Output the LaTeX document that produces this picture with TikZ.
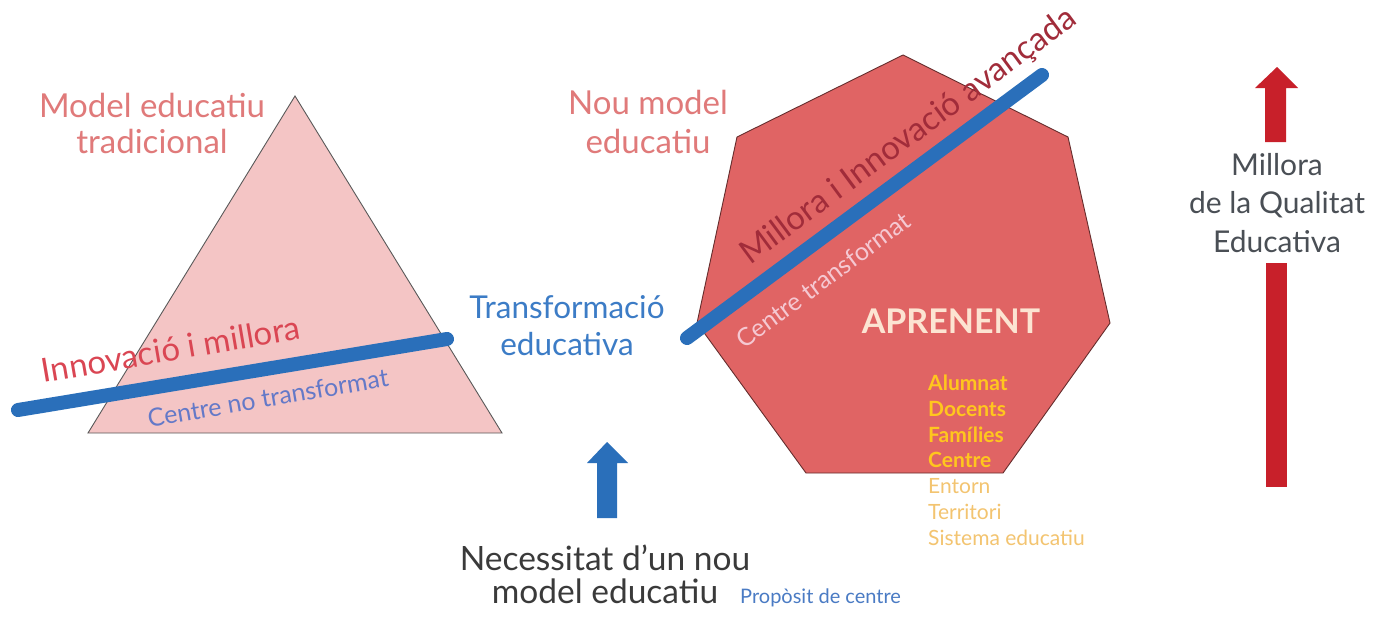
\documentclass[tikz,border=0pt]{standalone}
\usepackage{fontspec}
\setmainfont{Lato}
\definecolor{titlepink}{HTML}{E07A7A}
\definecolor{innored}{HTML}{DA4653}
\definecolor{periblue}{HTML}{6479C8}
\definecolor{transblue}{HTML}{3C7CC6}
\definecolor{darkred}{HTML}{A12C3A}
\definecolor{lightpink}{HTML}{F5C8D2}
\definecolor{cream}{HTML}{FCE4D2}
\definecolor{gold}{HTML}{FFC61E}
\definecolor{palegold}{HTML}{F3C470}
\definecolor{darkgray}{HTML}{3A3A3A}
\definecolor{qualgray}{HTML}{4A4F55}
\definecolor{trifill}{HTML}{F4C5C5}
\definecolor{heptfill}{HTML}{E06464}
\definecolor{lineblue}{HTML}{2A6FBA}
\definecolor{arrowred}{HTML}{C8202A}
\definecolor{propblue}{HTML}{4A7BC4}
\tikzset{
  lbl/.style={inner sep=0pt, anchor=base},
  bluebar/.style={draw=lineblue, line width=14pt, line cap=round},
  titletext/.style={lbl, text=titlepink, font=\fontsize{33}{36}\selectfont},
  listbold/.style={inner sep=0pt, anchor=base west, text=gold, font=\fontsize{21}{23}\selectfont\bfseries},
  listlight/.style={inner sep=0pt, anchor=base west, text=palegold, font=\fontsize{21}{23}\selectfont},
}
\begin{document}
\begin{tikzpicture}[x=1pt,y=-1pt]
\useasboundingbox (0,0) rectangle (1383,616);
\fill[white] (0,0) rectangle (1383,616);

% triangle
\draw[fill=trifill, draw=black!65, line width=0.9pt] (295,96) -- (502,433) -- (88,433) -- cycle;
% heptagon
\draw[fill=heptfill, draw=black!55!heptfill, line width=0.9pt]
  (903,55) -- (1068,137) -- (1110,323) -- (1003,473) -- (806,473) -- (697,323) -- (737,137) -- cycle;

% titles
\node[titletext] (t1a) at (152,117) {Model educatiu};
\node[titletext] (t1b) at (152,153) {tradicional};
\node[titletext] (t2a) at (648,114) {Nou model};
\node[titletext] (t2b) at (648,153) {educatiu};

% blue bars
\coordinate (b1s) at (18,410);
\coordinate (b1e) at (447,339);
\draw[bluebar] (b1s) -- (b1e);
\coordinate (b2s) at (687,338);
\coordinate (b2e) at (1042,75);
\draw[bluebar] (b2s) -- (b2e);

% triangle texts
\node[inner sep=0pt, rotate=9.7, text=innored, font=\fontsize{33}{35}\selectfont] (inno) at (171,349) {Innovació i millora};
\node[inner sep=0pt, rotate=9.7, text=periblue, font=\fontsize{25}{27}\selectfont] (cnt) at (268,398) {Centre no transformat};

% transformacio
\node[lbl, text=transblue, font=\fontsize{31.5}{33}\selectfont] (tr1) at (567,318) {Transformació};
\node[lbl, text=transblue, font=\fontsize{31.5}{33}\selectfont] (tr2) at (567,355) {educativa};

% heptagon texts
\node[inner sep=0pt, rotate=36.5, text=darkred, font=\fontsize{33}{35}\selectfont] (mia) at (909,137) {Millora i Innovació avançada};
\node[inner sep=0pt, rotate=36.5, text=lightpink, font=\fontsize{25}{27}\selectfont] (ct) at (823,280) {Centre transformat};
\node[lbl, text=cream, font=\fontsize{34}{36}\selectfont\bfseries] (apr) at (951,333) {APRENENT};

% list
\node[listbold] (l1) at (928,390) {Alumnat};
\node[listbold] (l2) at (928,416) {Docents};
\node[listbold] (l3) at (928,442) {Famílies};
\node[listbold] (l4) at (928,467) {Centre};
\node[listlight] (l5) at (928,493) {Entorn};
\node[listlight] (l6) at (928,519) {Territori};
\node[listlight] (l7) at (928,545) {Sistema educatiu};

% blue arrow
\fill[lineblue] (607,442) -- (628,463) -- (617,463) -- (617,518) -- (597,518) -- (597,463) -- (587,463) -- cycle;

% bottom texts
\node[lbl, text=darkgray, font=\fontsize{33.5}{36}\selectfont] (n1) at (605,570) {Necessitat d’un nou};
\node[lbl, text=darkgray, font=\fontsize{33.5}{36}\selectfont] (n2) at (605,603) {model educatiu};
\node[inner sep=0pt, anchor=base west, text=propblue, font=\fontsize{20}{22}\selectfont] (pc) at (740,603) {Propòsit de centre};

% red arrow
\fill[arrowred] (1277,67) -- (1298,88) -- (1286,88) -- (1286,142) -- (1265,142) -- (1265,88) -- (1255,88) -- cycle;
\fill[arrowred] (1266,263) rectangle (1287,487);
\node[lbl, text=qualgray, font=\fontsize{30}{32}\selectfont] (q1) at (1277,175) {Millora};
\node[lbl, text=qualgray, font=\fontsize{30}{32}\selectfont] (q2) at (1277,213) {de la Qualitat};
\node[lbl, text=qualgray, font=\fontsize{30}{32}\selectfont] (q3) at (1277,252) {Educativa};
\end{tikzpicture}
\end{document}
